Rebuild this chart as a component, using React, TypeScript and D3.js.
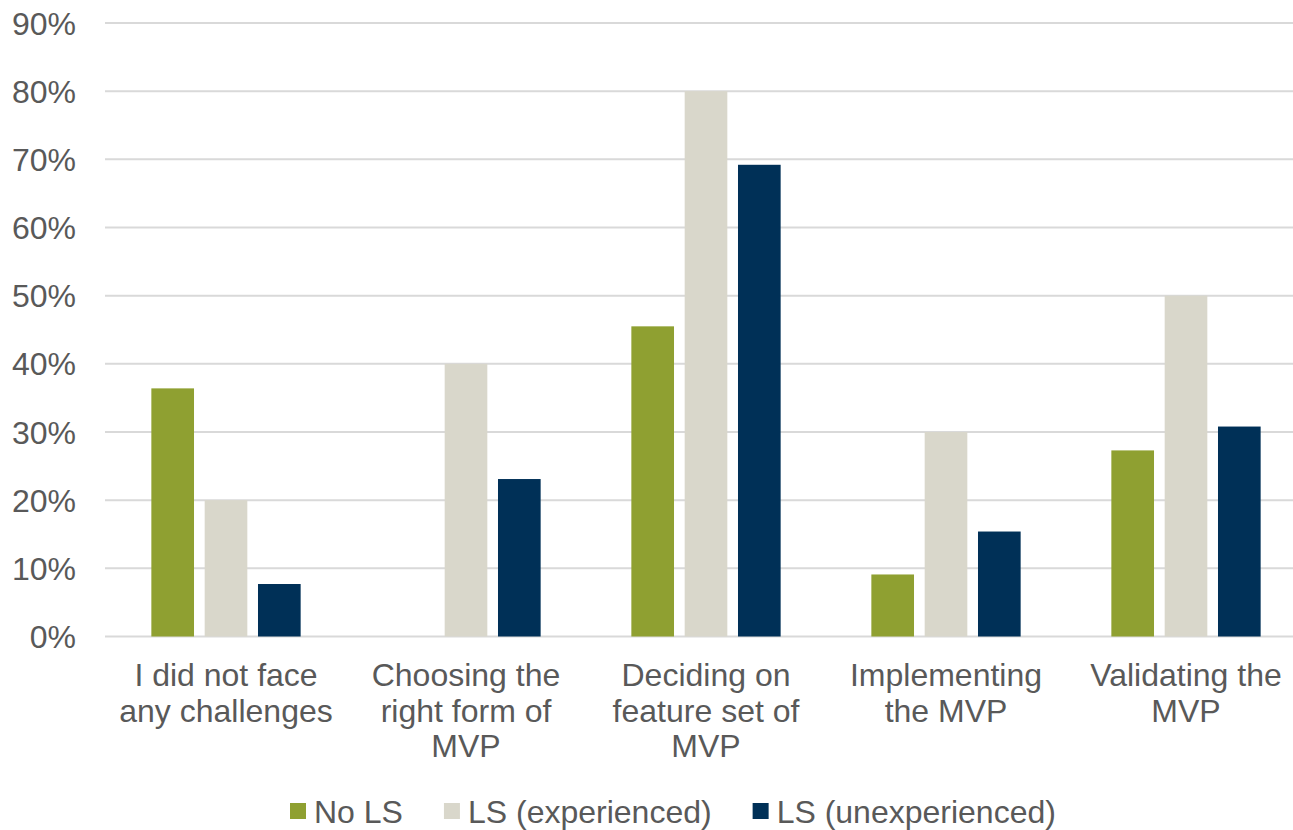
import React, { useMemo } from "react";
import * as d3 from "d3";

const categories: string[][] = [
  ["I did not face", "any challenges"],
  ["Choosing the", "right form of", "MVP"],
  ["Deciding on", "feature set of", "MVP"],
  ["Implementing", "the MVP"],
  ["Validating the", "MVP"],
];

const seriesNames = ["No LS", "LS (experienced)", "LS (unexperienced)"];
const seriesColors = ["#8fa031", "#d9d7cb", "#003057"];

const noLS = [0.364, 0, 0.455, 0.091, 0.273];
const lsExperienced = [0.2, 0.4, 0.8, 0.3, 0.5];
const lsUnexperienced = [0.077, 0.231, 0.692, 0.154, 0.308];

const yTicks = [0, 0.1, 0.2, 0.3, 0.4, 0.5, 0.6, 0.7, 0.8, 0.9];

const W = 1293;
const H = 830;
const FONT = "'Liberation Sans', Arial, sans-serif";
const TEXT = "#595959";
const FS = 32;

function measure(text: string, size: number): number {
  const c = document.createElement("canvas").getContext("2d");
  if (!c) return text.length * size * 0.5;
  c.font = `${size}px ${FONT}`;
  return c.measureText(text).width;
}

export default function App() {
  const series = [noLS, lsExperienced, lsUnexperienced];
  const keys = categories.map((c) => c.join(" "));

  const x0 = d3.scaleBand<string>().domain(keys).range([106, 1306]).padding(0);
  const x1 = d3
    .scaleBand<number>()
    .domain([0, 1, 2])
    .range([45.35, 194.65])
    .paddingInner(0.2)
    .paddingOuter(0);
  const y = d3.scaleLinear().domain([0, 0.9]).range([636.5, 23]);
  const fmt = d3.format(".0%");

  // legend laid out left to right: swatch, gap, label, spacing
  const legendItems = useMemo(() => {
    let cx = 290;
    return seriesNames.map((name, i) => {
      const item = { name, color: seriesColors[i], x: cx };
      cx += 16 + 8 + measure(name, FS) + 41;
      return item;
    });
  }, []);

  return (
    <svg
      width={W}
      height={H}
      style={{ position: "absolute", left: 0, top: 0, background: "#fff" }}
      fontFamily={FONT}
    >
      <rect width={W} height={H} fill="#fff" />
      {/* horizontal gridlines */}
      {yTicks.map((t) => (
        <line
          key={t}
          x1={105}
          x2={1306}
          y1={y(t)}
          y2={y(t)}
          stroke="#d9d9d9"
          strokeWidth={2}
        />
      ))}
      {/* y tick labels */}
      {yTicks.map((t) => (
        <text
          key={"l" + t}
          x={76}
          y={y(t)}
          dy="0.36em"
          textAnchor="end"
          fontSize={FS}
          fill={TEXT}
        >
          {fmt(t)}
        </text>
      ))}
      {/* bars */}
      {keys.map((k, ci) => (
        <g key={k} transform={`translate(${x0(k)},0)`}>
          {series.map((vals, si) =>
            vals[ci] > 0 ? (
              <rect
                key={si}
                x={x1(si)}
                y={y(vals[ci])}
                width={x1.bandwidth()}
                height={y(0) - y(vals[ci])}
                fill={seriesColors[si]}
              />
            ) : null
          )}
        </g>
      ))}
      {/* category labels */}
      {categories.map((lines, ci) => {
        const cx = (x0(keys[ci]) as number) + x0.bandwidth() / 2;
        return (
          <text key={"c" + ci} textAnchor="middle" fontSize={FS} fill={TEXT}>
            {lines.map((ln, li) => (
              <tspan key={li} x={cx} y={686 + li * 35.5}>
                {ln}
              </tspan>
            ))}
          </text>
        );
      })}
      {/* legend */}
      {legendItems.map((it) => (
        <g key={it.name}>
          <rect x={it.x} y={803} width={16} height={16} fill={it.color} />
          <text x={it.x + 24} y={823} fontSize={FS} fill={TEXT}>
            {it.name}
          </text>
        </g>
      ))}
    </svg>
  );
}
